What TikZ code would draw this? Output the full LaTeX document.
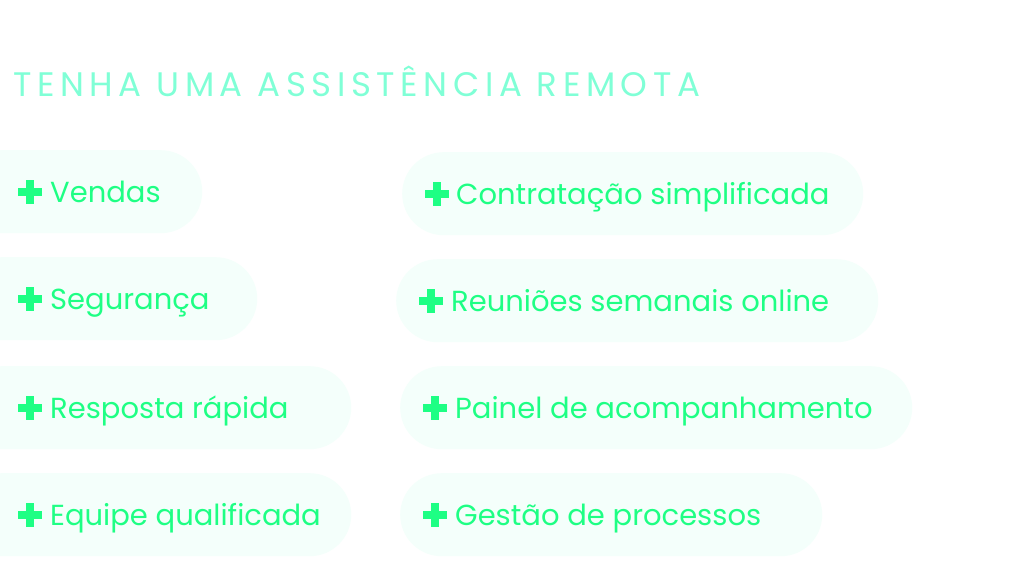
\documentclass[tikz,border=0pt]{standalone}
\usepackage{fontspec}
\setmainfont{Poppins}
\newfontfamily\titlefont[LetterSpace=16.5]{Poppins}
\definecolor{titlecol}{HTML}{80FFD6}
\definecolor{txtcol}{HTML}{1EFF84}
\definecolor{pillfill}{HTML}{F4FFFB}
\tikzset{
  pill/.style={fill=pillfill, draw=none, rounded corners=41.5pt, anchor=north west, inner sep=0pt, minimum height=83pt},
  label/.style={anchor=base west, inner sep=0pt, text=txtcol, font=\fontsize{29}{34}\selectfont},
  plusicon/.style={fill=txtcol, draw=none}
}
\newcommand{\plusat}[2]{%
  \fill[plusicon] (#1-12,#2-4) rectangle (#1+12,#2+4);
  \fill[plusicon] (#1-4,#2-12) rectangle (#1+4,#2+12);
}
\begin{document}
\begin{tikzpicture}[x=1pt,y=-1pt]
\useasboundingbox (0,0) rectangle (1024,586);
\fill[white] (0,0) rectangle (1024,586);
\clip (0,0) rectangle (1024,586);
\node[anchor=base west, inner sep=0pt, text=titlecol, font=\titlefont\fontsize{34}{40}\selectfont] (title) at (13,96) {TENHA UMA ASSISTÊNCIA REMOTA};
% left column
\node[pill, minimum width=242pt] (p1) at (-40,150) {};
\node[pill, minimum width=297pt] (p2) at (-40,257) {};
\node[pill, minimum width=391pt] (p3) at (-40,366) {};
\node[pill, minimum width=391pt] (p4) at (-40,473) {};
% right column
\node[pill, minimum width=461pt] (p5) at (402,152) {};
\node[pill, minimum width=482pt] (p6) at (396,259) {};
\node[pill, minimum width=512pt] (p7) at (400,366) {};
\node[pill, minimum width=422pt] (p8) at (400,473) {};
% icons
\plusat{30}{191.5}
\plusat{30}{298.5}
\plusat{30}{407.5}
\plusat{30}{514.5}
\plusat{436.5}{193.5}
\plusat{431}{300.5}
\plusat{435}{407.5}
\plusat{435}{514.5}
% labels
\node[label] (t1) at (50,202.5) {Vendas};
\node[label] (t2) at (50,309.5) {Segurança};
\node[label] (t3) at (50,418.5) {Resposta rápida};
\node[label] (t4) at (50,525.5) {Equipe qualificada};
\node[label] (t5) at (456,204.5) {Contratação simplificada};
\node[label] (t6) at (451,311.5) {Reuniões semanais online};
\node[label] (t7) at (455,418.5) {Painel de acompanhamento};
\node[label] (t8) at (455,525.5) {Gestão de processos};
\end{tikzpicture}
\end{document}
